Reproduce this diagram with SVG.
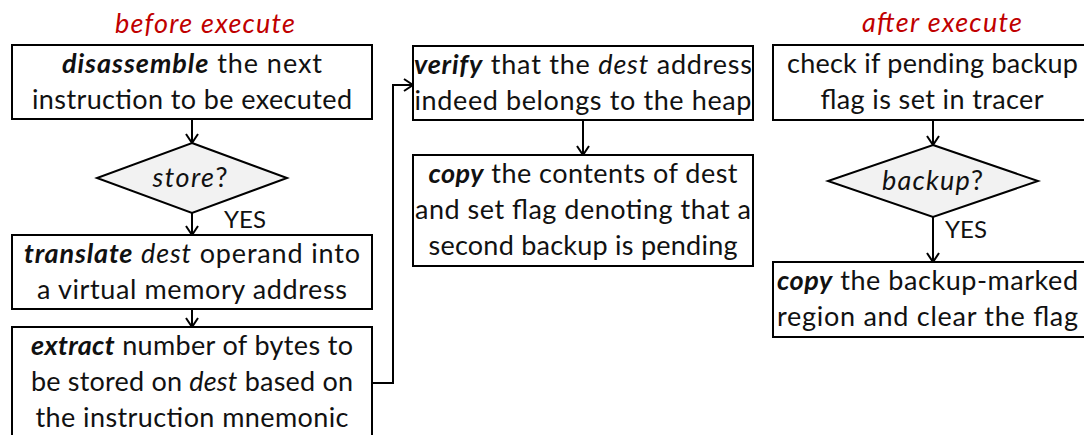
<svg xmlns="http://www.w3.org/2000/svg" width="1084" height="435" viewBox="0 0 1084 435">
<defs>
<style>
.box{fill:#fff;stroke:#000;stroke-width:2}
.dia{fill:#f2f2f2;stroke:#000;stroke-width:2}
.t{font-family:Lato,"Open Sans","Liberation Sans",sans-serif;font-size:27px;fill:#111;text-anchor:middle}
.bi{font-weight:bold;font-style:italic}
.i{font-style:italic}
.title{fill:#c00000;font-style:italic}
.yes{font-size:24px}
.conn{stroke:#000;stroke-width:2;fill:none;marker-end:url(#arr)}
</style>
<marker id="arr" viewBox="-1 -8 12 16" refX="10" refY="0" markerWidth="12" markerHeight="16" markerUnits="userSpaceOnUse" orient="auto">
<path d="M1,-6 L10,0 L1,6" fill="none" stroke="#000" stroke-width="2"/>
</marker>
</defs>
<rect width="1084" height="435" fill="#fff"/>
<g id="titles">
<text class="t title" x="205" y="33" textLength="180">before execute</text>
<text class="t title" x="942" y="32" textLength="160">after execute</text>
</g>
<g id="connectors">
<line class="conn" x1="192" y1="119" x2="192" y2="143"/>
<line class="conn" x1="192" y1="213" x2="192" y2="235"/>
<line class="conn" x1="192" y1="309" x2="192" y2="327"/>
<path class="conn" d="M372,383 H393 V85 H413"/>
<line class="conn" x1="583" y1="120" x2="583" y2="155"/>
<line class="conn" x1="933" y1="120" x2="933" y2="145"/>
<line class="conn" x1="933" y1="217" x2="933" y2="262"/>
</g>
<g id="disassemble">
<rect class="box" x="12" y="45" width="360" height="74"/>
<text class="t" x="192" y="73" textLength="260"><tspan class="bi">disassemble</tspan> the next</text>
<text class="t" x="192" y="109" textLength="320">instruction to be executed</text>
</g>
<g id="store">
<polygon class="dia" points="192,143 287,178 192,213 97,178"/>
<text class="t" x="190" y="187" textLength="75"><tspan class="i">store</tspan>?</text>
</g>
<g id="yes1"><text class="t yes" x="245" y="228">YES</text></g>
<g id="translate">
<rect class="box" x="12" y="235" width="360" height="74"/>
<text class="t" x="192" y="263" textLength="336"><tspan class="bi">translate</tspan> <tspan class="i">dest</tspan> operand into</text>
<text class="t" x="192" y="299" textLength="310">a virtual memory address</text>
</g>
<g id="extract">
<rect class="box" x="12" y="327" width="360" height="130"/>
<text class="t" x="192" y="355" textLength="322"><tspan class="bi">extract</tspan> number of bytes to</text>
<text class="t" x="192" y="391" textLength="322">be stored on <tspan class="i">dest</tspan> based on</text>
<text class="t" x="192" y="427" textLength="313">the instruction mnemonic</text>
</g>
<g id="verify">
<rect class="box" x="413" y="46" width="340" height="74"/>
<text class="t" x="583" y="74" textLength="338"><tspan class="bi">verify</tspan> that the <tspan class="i">dest</tspan> address</text>
<text class="t" x="583" y="110" textLength="337">indeed belongs to the heap</text>
</g>
<g id="copy-dest">
<rect class="box" x="413" y="155" width="340" height="111"/>
<text class="t" x="583" y="183" textLength="309"><tspan class="bi">copy</tspan> the contents of dest</text>
<text class="t" x="583" y="219" textLength="336">and set flag denoting that a</text>
<text class="t" x="583" y="255" textLength="309">second backup is pending</text>
</g>
<g id="check">
<rect class="box" x="773" y="45" width="330" height="75"/>
<text class="t" x="932.5" y="73" textLength="291">check if pending backup</text>
<text class="t" x="932" y="109" textLength="223">flag is set in tracer</text>
</g>
<g id="backup">
<polygon class="dia" points="933,145 1038,181 933,217 828,181"/>
<text class="t" x="932.5" y="190" textLength="101"><tspan class="i">backup</tspan>?</text>
</g>
<g id="yes2"><text class="t yes" x="966" y="238">YES</text></g>
<g id="copy-region">
<rect class="box" x="773" y="262" width="330" height="75"/>
<text class="t" x="927.5" y="290" textLength="301"><tspan class="bi">copy</tspan> the backup-marked</text>
<text class="t" x="927.5" y="326" textLength="301">region and clear the flag</text>
</g>
</svg>
